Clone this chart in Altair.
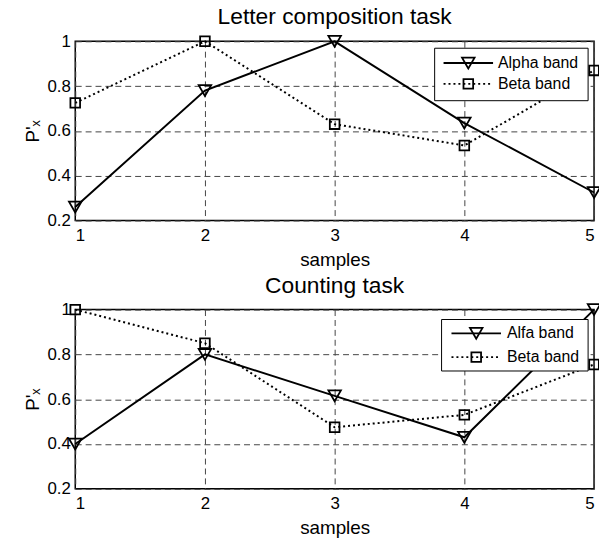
import altair as alt
import pandas as pd

samples = [1, 2, 3, 4, 5]
letter_alpha = [0.26, 0.78, 1.0, 0.635, 0.325]
letter_beta = [0.725, 1.0, 0.63, 0.535, 0.87]
count_alpha = [0.40, 0.80, 0.615, 0.43, 1.0]
count_beta = [1.0, 0.85, 0.475, 0.53, 0.755]
x_ticks = [1, 2, 3, 4, 5]
y_ticks = [0.2, 0.4, 0.6, 0.8, 1.0]

FONT = "Liberation Sans"
W, H = 524, 181


def panel(title, alpha, beta, alpha_label, beta_label, lg):
    da = pd.DataFrame({"sample": samples, "value": alpha, "band": alpha_label})
    db = pd.DataFrame({"sample": samples, "value": beta, "band": beta_label})
    x = alt.X("sample:Q", scale=alt.Scale(domain=[1, 5], nice=False),
              axis=alt.Axis(values=x_ticks, title="samples", format="d"))
    y = alt.Y("value:Q", scale=alt.Scale(domain=[0.2, 1.0], nice=False),
              axis=alt.Axis(values=y_ticks, title="P'ₓ", format="~g"))

    a_line = alt.Chart(da).mark_line(color="black", strokeWidth=2).encode(x=x, y=y)
    a_pts = alt.Chart(da).mark_point(shape="triangle-down", filled=False, color="black",
                                     strokeWidth=1.8, size=160, opacity=1).encode(x=x, y=y)
    b_line = alt.Chart(db).mark_line(color="black", strokeWidth=2, strokeDash=[2, 3]).encode(x=x, y=y)
    b_pts = alt.Chart(db).mark_point(shape="square", filled=False, color="black",
                                     strokeWidth=1.8, size=95, opacity=1).encode(x=x, y=y)

    one = pd.DataFrame({"k": [0]})
    x0, x1, y0, y1, lx0, lx1, ya, yb, tx = lg
    box = alt.Chart(one).mark_rect(fill="white", stroke="black", strokeWidth=1).encode(
        x=alt.value(x0), x2=alt.value(x1), y=alt.value(y0), y2=alt.value(y1))
    la = alt.Chart(one).mark_rule(color="black", strokeWidth=2).encode(
        x=alt.value(lx0), x2=alt.value(lx1), y=alt.value(ya))
    lb = alt.Chart(one).mark_rule(color="black", strokeWidth=2, strokeDash=[2, 3]).encode(
        x=alt.value(lx0), x2=alt.value(lx1), y=alt.value(yb))
    pa = alt.Chart(one).mark_point(shape="triangle-down", filled=False, color="black",
                                   strokeWidth=1.8, size=160, opacity=1).encode(
        x=alt.value((lx0 + lx1) / 2), y=alt.value(ya))
    pb = alt.Chart(one).mark_point(shape="square", filled=False, color="black",
                                   strokeWidth=1.8, size=95, opacity=1).encode(
        x=alt.value((lx0 + lx1) / 2), y=alt.value(yb))
    ta = alt.Chart(pd.DataFrame({"t": [alpha_label]})).mark_text(
        align="left", baseline="middle", font=FONT, fontSize=16, color="black").encode(
        x=alt.value(tx), y=alt.value(ya), text="t:N")
    tb = alt.Chart(pd.DataFrame({"t": [beta_label]})).mark_text(
        align="left", baseline="middle", font=FONT, fontSize=16, color="black").encode(
        x=alt.value(tx), y=alt.value(yb), text="t:N")

    return alt.layer(a_line, b_line, a_pts, b_pts, box, la, lb, pa, pb, ta, tb).properties(
        width=W, height=H,
        title=alt.TitleParams(title, fontSize=23, fontWeight="normal", font=FONT,
                              color="black", offset=3))


top = panel("Letter composition task", letter_alpha, letter_beta, "Alpha band", "Beta band",
            (363, 518, 7, 60, 372, 422, 22, 43, 427))
bottom = panel("Counting task", count_alpha, count_beta, "Alfa band", "Beta band",
               (370, 518, 10, 62, 380, 430, 24, 48, 436))

chart = alt.vconcat(top, bottom, spacing=4).configure(
    padding={"left": 23, "top": 3, "right": -6, "bottom": 0},
    background="white",
).configure_view(
    stroke="black", strokeWidth=1.5
).configure_axis(
    labelFont=FONT, labelFontSize=17, labelColor="black",
    titleFont=FONT, titleFontSize=19, titleFontWeight="normal", titleColor="black",
    grid=True, gridColor="#444", gridDash=[6, 4], gridWidth=1, gridOpacity=1,
    domain=False, ticks=False,
).configure_axisX(
    labelPadding=7, titlePadding=7,
).configure_axisY(
    labelPadding=5, titlePadding=4,
)

chart.save("out.html", embed_options={"renderer": "svg", "actions": False})
